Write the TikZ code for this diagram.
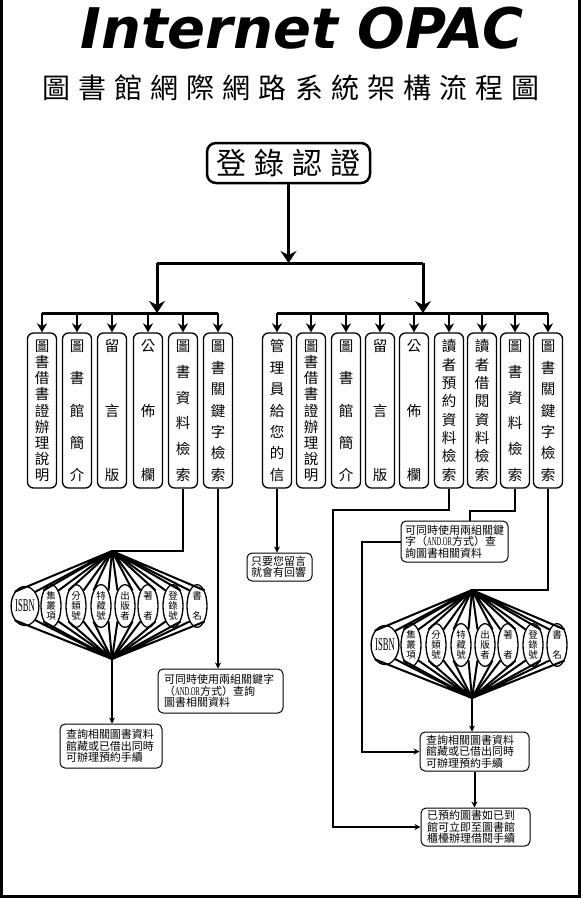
\documentclass[tikz,border=0pt]{standalone}
\usepackage{fontspec}
\usepackage{graphicx}
\setmainfont{Liberation Serif}
\newfontfamily\cjk{Noto Sans CJK TC}
\newfontfamily\ttlfont{DejaVu Sans}
\usetikzlibrary{arrows.meta,shapes.geometric}

% characters of a list, top to bottom, spread over #1
\newcommand\vcol[2]{\edef\vlist{#2}\vbox to #1{\offinterlineskip
  \foreach \ch [count=\k] in \vlist {\ifnum\k>1 \vfill\fi
    \hbox to 1em{\hss\vrule height .88em depth .12em width 0pt\ch\hss}}}}
% characters of a list, left to right, spread over #1
\newcommand\hspread[2]{\edef\hlist{#2}\hbox to #1{%
  \foreach \ch [count=\k] in \hlist {\ifnum\k>1 \hfill\fi\ch}}}
\newcommand\andor{{\rmfamily\fontsize{12}{12}\selectfont\scalebox{.55}[1]{AND.OR}}}

\begin{document}
\begin{tikzpicture}[x=1pt,y=-1pt,
    tall/.style={draw,line width=1.3pt,rounded corners=6pt,minimum width=29pt,
      minimum height=155pt,inner sep=0pt,font=\cjk\fontsize{14.5}{15}\selectfont},
    oval/.style={draw,ellipse,line width=1.3pt,minimum width=20pt,minimum height=39pt,
      inner sep=0pt,font=\cjk\fontsize{9.5}{10}\selectfont},
    note/.style={draw,line width=1pt,rounded corners=5pt,inner xsep=6pt,inner ysep=0pt,
      align=left,font=\cjk\fontsize{11}{11.5}\selectfont},
    heavy/.style={line width=3pt},
    wire/.style={line width=2pt},
    bigarrow/.style={heavy,-{Stealth[length=12pt,width=16pt]}},
    midarrow/.style={line width=2.5pt,-{Stealth[length=9pt,width=10pt]}},
    tinyarrow/.style={wire,-{Stealth[length=6pt,width=6pt]}}]
  \useasboundingbox (0,0) rectangle (581,898);
  \draw[line width=3pt] (1.5,0) -- (1.5,896.5) -- (579.5,896.5) -- (579.5,0);

  \node[anchor=base,font=\ttlfont\bfseries\itshape\fontsize{56}{56}\selectfont] (ttl) at (302,48) {Internet OPAC};
  \node[inner sep=0pt,font=\cjk\fontsize{28}{28}\selectfont] (sub) at (291,88)
    {\hspread{498pt}{圖,書,館,網,際,網,路,系,統,架,構,流,程,圖}};
  \node[draw,line width=2.5pt,rounded corners=9pt,minimum width=163pt,minimum height=40pt,
    inner sep=0pt,font=\cjk\fontsize{30}{30}\selectfont] (login) at (288.5,163) {\hspread{144pt}{登,錄,認,證}};

  % the two rows of menu items
  \node[tall] (l1) at (42,410.5) {\vcol{141pt}{圖,書,借,書,證,辦,理,說,明}};
  \node[tall] (l2) at (77,410.5) {\vcol{141pt}{圖,書,館,簡,介}};
  \node[tall] (l3) at (112,410.5) {\vcol{141pt}{留,言,版}};
  \node[tall] (l4) at (148,410.5) {\vcol{141pt}{公,佈,欄}};
  \node[tall] (l5) at (183,410.5) {\vcol{141pt}{圖,書,資,料,檢,索}};
  \node[tall] (l6) at (218,410.5) {\vcol{141pt}{圖,書,關,鍵,字,檢,索}};
  \node[tall] (r1) at (277,410.5) {\vcol{141pt}{管,理,員,給,您,的,信}};
  \node[tall] (r2) at (311,410.5) {\vcol{141pt}{圖,書,借,書,證,辦,理,說,明}};
  \node[tall] (r3) at (346,410.5) {\vcol{141pt}{圖,書,館,簡,介}};
  \node[tall] (r4) at (380,410.5) {\vcol{141pt}{留,言,版}};
  \node[tall] (r5) at (414,410.5) {\vcol{141pt}{公,佈,欄}};
  \node[tall] (r6) at (449,410.5) {\vcol{141pt}{讀,者,預,約,資,料,檢,索}};
  \node[tall] (r7) at (482,410.5) {\vcol{141pt}{讀,者,借,閱,資,料,檢,索}};
  \node[tall] (r8) at (515,410.5) {\vcol{141pt}{圖,書,資,料,檢,索}};
  \node[tall] (r9) at (548,410.5) {\vcol{141pt}{圖,書,關,鍵,字,檢,索}};

  \coordinate (jl) at (157,263); \coordinate (jr) at (423,263);
  \coordinate (gl) at (157,313); \coordinate (gr) at (423,313);
  \draw[bigarrow] (login) -- (login |- jl);
  \draw[heavy] (jl) -- (jr);
  \draw[bigarrow] (jl) -- (gl); \draw[bigarrow] (jr) -- (gr);
  \draw[heavy] (l1.north |- gl) -- (l6.north |- gl);
  \draw[heavy] (r1.north |- gr) -- (r9.north |- gr);
  \foreach \n in {l1,l2,l3,l4,l5,l6} \draw[midarrow] (\n.north |- gl) -- (\n.north);
  \foreach \n in {r1,r2,r3,r4,r5,r6,r7,r8,r9} \draw[midarrow] (\n.north |- gr) -- (\n.north);

  % search fields, once under each row
  \foreach \s/\dx/\dy in {l/0/0,r/360/39} {
    \coordinate (\s-top) at (112+\dx,551+\dy);
    \coordinate (\s-bot) at (112+\dx,659+\dy);
    \node[oval] (\s-a1) at (25+\dx,606+\dy) {\rmfamily\fontsize{18}{18}\selectfont\scalebox{.48}[1]{ISBN}};
    \foreach \x/\txt [count=\i from 2] in {51/{集,叢,項},76/{分,類,號},101/{特,藏,號},
        125/{出,版,者},148/{著,者},173/{登,錄,號},197/{書,名}}
      \node[oval] (\s-a\i) at (\x+\dx,606+\dy) {\vcol{29pt}{\txt}};
    \foreach \i in {1,...,8} {
      \draw[wire] (\s-top) -- (\s-a\i.north west) (\s-top) -- (\s-a\i.north east);
      \draw[wire] (\s-bot) -- (\s-a\i.south west) (\s-bot) -- (\s-a\i.south east);
    }
  }

  \node[note,text width=113pt,minimum height=44pt] (k1) at (220.5,691)
    {可同時使用兩組關鍵字\\（\andor 方式）查詢\\圖書相關資料};
  \node[note,text width=90pt,minimum height=44pt] (q1) at (111,746)
    {查詢相關圖書資料\\館藏或已借出同時\\可辦理預約手續};
  \node[note,inner xsep=4pt,text width=57pt,minimum height=28pt] (m1) at (279.5,567)
    {只要您留言\\就會有回響};
  \node[note,inner xsep=4pt,text width=99pt,minimum height=41pt] (k2) at (454.5,541.5)
    {可同時使用兩組關鍵\\字（\andor 方式）查\\詢圖書相關資料};
  \node[note,text width=97pt,minimum height=39pt] (q2) at (474.5,751.5)
    {查詢相關圖書資料\\館藏或已借出同時\\可辦理預約手續};
  \node[note,text width=97pt,minimum height=38pt] (q3) at (475.5,827)
    {已預約圖書如已到\\館可立即至圖書館\\櫃檯辦理借閱手續};

  % links below the rows
  \coordinate (c1) at (333,510); \coordinate (c2) at (470,511); \coordinate (c3) at (362,541.5);
  \draw[wire] (l5.south) |- (l-top);
  \draw[tinyarrow] (l6.south) -- (l6.south |- k1.north);
  \draw[tinyarrow] (l-bot) -- (l-bot |- q1.north);
  \draw[tinyarrow] (r1.south) -- (r1.south |- m1.north);
  \draw[tinyarrow] (r6.south) |- (c1) |- (q3.west);
  \draw[wire] (r8.south) |- (c2) -- (c2 |- k2.north);
  \draw[tinyarrow] (k2.west) -- (c3) |- (q2.west);
  \draw[wire] (r9.south) |- (r-top);
  \draw[tinyarrow] (r-bot) -- (r-bot |- q2.north);
  \draw[tinyarrow] (q2.south) -- (q2.south |- q3.north);
\end{tikzpicture}
\end{document}
